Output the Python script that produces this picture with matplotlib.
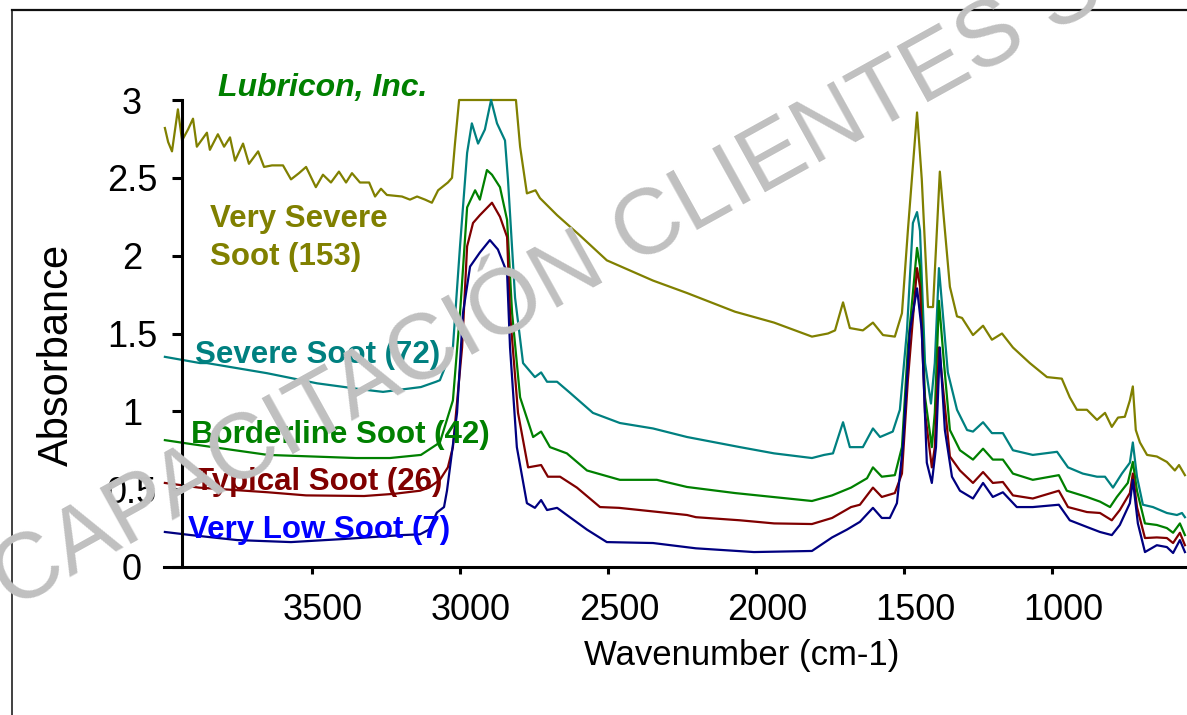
import matplotlib
matplotlib.use('Agg')
import matplotlib.pyplot as plt
from matplotlib.ticker import FixedLocator, FormatStrFormatter
from matplotlib.transforms import ScaledTranslation
from matplotlib.lines import Line2D

plt.rcParams['font.family'] = ['Liberation Sans', 'DejaVu Sans']

# --- spectra (wavenumber cm-1, absorbance) ---
wn_very_severe = [3997, 3986, 3973, 3953, 3939, 3919, 3902, 3889, 3855, 3845, 3818, 3797, 3777,
                  3760, 3733, 3713, 3682, 3662, 3635, 3598, 3571, 3544, 3520, 3487, 3463, 3436,
                  3409, 3385, 3365, 3338, 3307, 3287, 3267, 3247, 3196, 3169, 3145, 3118, 3095,
                  3074, 3041, 3027, 3017, 3003, 2811, 2797, 2774, 2745, 2730, 2672, 2595, 2504,
                  2348, 2233, 2071, 1939, 1811, 1757, 1733, 1706, 1683, 1639, 1605, 1571, 1531,
                  1507, 1487, 1456, 1440, 1419, 1402, 1389, 1379, 1365, 1345, 1321, 1304, 1267,
                  1233, 1203, 1169, 1132, 1075, 1017, 967, 940, 916, 882, 848, 821, 798, 777,
                  754, 737, 727, 717, 703, 679, 646, 612, 585, 571, 551]
abs_very_severe = [2.82, 2.73, 2.67, 2.94, 2.74, 2.81, 2.88, 2.70, 2.79, 2.68, 2.78, 2.70, 2.76,
                   2.61, 2.72, 2.59, 2.67, 2.57, 2.58, 2.58, 2.49, 2.53, 2.57, 2.44, 2.52, 2.47,
                   2.54, 2.47, 2.53, 2.47, 2.47, 2.38, 2.43, 2.39, 2.38, 2.36, 2.38, 2.36, 2.34,
                   2.42, 2.47, 2.50, 2.72, 3.00, 3.00, 2.70, 2.40, 2.42, 2.37, 2.26, 2.13, 1.97,
                   1.84, 1.76, 1.64, 1.57, 1.48, 1.50, 1.52, 1.70, 1.535, 1.52, 1.57, 1.49, 1.48,
                   1.63, 2.16, 2.92, 2.49, 1.67, 1.67, 2.16, 2.54, 2.23, 1.80, 1.61, 1.60, 1.49,
                   1.55, 1.46, 1.50, 1.41, 1.31, 1.22, 1.21, 1.09, 1.01, 1.01, 0.945, 0.99, 0.90, 0.96,
                   0.965, 1.07, 1.16, 0.88, 0.80, 0.72, 0.71, 0.675, 0.62, 0.655, 0.59]

wn_severe = [3997, 3878, 3855, 3652, 3483, 3328, 3260, 3132, 3081, 3068, 3024, 3000, 2976, 2960,
             2939, 2916, 2895, 2875, 2848, 2838, 2814, 2787, 2747, 2726, 2706, 2672, 2629, 2551,
             2460, 2348, 2233, 2054, 1939, 1811, 1770, 1740, 1706, 1683, 1639, 1605, 1581, 1538,
             1514, 1490, 1470, 1456, 1446, 1429, 1409, 1396, 1382, 1369, 1352, 1321, 1287, 1267,
             1233, 1203, 1166, 1132, 1065, 983, 946, 896, 848, 821, 794, 764, 737, 727, 713, 693,
             659, 612, 578, 561, 551]
abs_severe = [1.35, 1.31, 1.31, 1.245, 1.18, 1.14, 1.125, 1.156, 1.19, 1.20, 1.41, 2.06, 2.66, 2.85,
              2.72, 2.81, 3.00, 2.85, 2.74, 2.49, 1.73, 1.31, 1.22, 1.25, 1.19, 1.19, 1.12, 0.99,
              0.925, 0.89, 0.835, 0.77, 0.73, 0.70, 0.72, 0.73, 0.93, 0.77, 0.77, 0.89, 0.835, 0.87,
              1.01, 1.52, 2.21, 2.28, 2.16, 1.31, 1.05, 1.31, 1.92, 1.63, 1.25, 1.01, 0.88, 0.87,
              0.93, 0.86, 0.86, 0.75, 0.72, 0.74, 0.64, 0.60, 0.58, 0.58, 0.51, 0.60, 0.67, 0.80, 0.58, 0.40,
              0.385, 0.347, 0.334, 0.347, 0.32]

wn_borderline = [3997, 3909, 3649, 3351, 3237, 3132, 3068, 3024, 3000, 2976, 2949, 2933, 2909, 2892,
                 2865, 2841, 2824, 2797, 2753, 2726, 2696, 2639, 2571, 2460, 2335, 2233, 2071, 1811,
                 1743, 1679, 1625, 1605, 1575, 1531, 1507, 1487, 1456, 1446, 1429, 1406, 1396, 1382,
                 1365, 1345, 1311, 1267, 1233, 1200, 1166, 1132, 1065, 977, 950, 882, 838, 804, 781,
                 744, 727, 713, 686, 646, 612, 591, 568, 551]
abs_borderline = [0.815, 0.79, 0.72, 0.70, 0.70, 0.72, 0.80, 1.07, 1.63, 2.31, 2.42, 2.36, 2.55, 2.52,
                  2.44, 2.23, 1.63, 1.09, 0.835, 0.87, 0.77, 0.73, 0.62, 0.56, 0.56, 0.514, 0.475, 0.424,
                  0.46, 0.51, 0.57, 0.64, 0.58, 0.59, 0.77, 1.41, 2.05, 1.93, 1.09, 0.77, 0.99, 1.71,
                  1.31, 0.88, 0.75, 0.69, 0.76, 0.69, 0.69, 0.60, 0.56, 0.59, 0.49, 0.45, 0.42, 0.385, 0.45,
                  0.54, 0.675, 0.49, 0.28, 0.27, 0.25, 0.22, 0.28, 0.205]

wn_typical = [3997, 3882, 3649, 3520, 3324, 3223, 3135, 3105, 3068, 3041, 3024, 2993, 2976, 2956,
              2933, 2892, 2865, 2841, 2831, 2804, 2770, 2726, 2703, 2662, 2605, 2527, 2463, 2233,
              2203, 2054, 1939, 1811, 1743, 1679, 1649, 1605, 1575, 1531, 1507, 1487, 1456, 1446,
              1429, 1406, 1396, 1382, 1365, 1345, 1311, 1267, 1233, 1200, 1166, 1132, 1065, 977,
              946, 882, 838, 798, 771, 737, 727, 713, 686, 646, 612, 591, 568, 551]
abs_typical = [0.54, 0.51, 0.48, 0.46, 0.456, 0.47, 0.49, 0.51, 0.56, 0.64, 0.77, 1.41, 2.06, 2.21,
               2.26, 2.34, 2.25, 2.12, 1.63, 0.99, 0.64, 0.655, 0.58, 0.58, 0.51, 0.385, 0.38, 0.334,
               0.32, 0.30, 0.28, 0.276, 0.315, 0.385, 0.40, 0.51, 0.45, 0.475, 0.60, 1.20, 1.92, 1.80,
               0.99, 0.64, 0.77, 1.41, 1.09, 0.71, 0.62, 0.54, 0.61, 0.54, 0.546, 0.46, 0.44, 0.49,
               0.385, 0.353, 0.347, 0.30, 0.366, 0.475, 0.60, 0.385, 0.186, 0.19, 0.186, 0.154, 0.22, 0.14]

wn_very_low = [3997, 3909, 3753, 3571, 3392, 3196, 3135, 3105, 3078, 3054, 3044, 3010, 2990, 2966,
               2933, 2899, 2872, 2841, 2831, 2808, 2774, 2747, 2726, 2706, 2672, 2629, 2571, 2504,
               2348, 2203, 2007, 1811, 1743, 1693, 1649, 1605, 1575, 1548, 1524, 1504, 1480, 1456,
               1440, 1423, 1406, 1392, 1379, 1362, 1338, 1311, 1267, 1233, 1200, 1166, 1119, 1065,
               977, 940, 882, 838, 798, 771, 737, 727, 710, 686, 646, 612, 591, 568, 551]
abs_very_low = [0.225, 0.205, 0.173, 0.16, 0.18, 0.205, 0.21, 0.24, 0.35, 0.385, 0.49, 0.99, 1.63, 1.93,
                2.02, 2.10, 2.04, 1.89, 1.41, 0.77, 0.41, 0.38, 0.43, 0.366, 0.38, 0.32, 0.24, 0.16,
                0.154, 0.12, 0.096, 0.103, 0.19, 0.24, 0.29, 0.38, 0.315, 0.315, 0.41, 0.77, 1.52, 1.79,
                1.52, 0.67, 0.54, 0.77, 1.41, 0.88, 0.58, 0.49, 0.44, 0.54, 0.45, 0.48, 0.385, 0.385,
                0.40, 0.30, 0.257, 0.225, 0.205, 0.27, 0.41, 0.56, 0.28, 0.096, 0.14, 0.128, 0.09, 0.173, 0.096]

series = [
    (wn_very_severe, abs_very_severe, '#808000'),
    (wn_severe, abs_severe, '#008080'),
    (wn_borderline, abs_borderline, '#008000'),
    (wn_typical, abs_typical, '#800000'),
    (wn_very_low, abs_very_low, '#000080'),
]

# label text, colour, left px, baseline px
labels = [
    ('Very Severe', '#808000', 210, 227),
    ('Soot (153)', '#808000', 210, 265),
    ('Severe Soot (72)', '#008080', 195, 363),
    ('Borderline Soot (42)', '#008000', 191, 443),
    ('Typical Soot (26)', '#800000', 195, 490),
    ('Very Low Soot (7)', '#0000FF', 188, 538),
]

W, H = 1187, 715


def fx(px):
    return px / W


def fy(py):
    return 1 - py / H


fig = plt.figure(figsize=(W / 100, H / 100), dpi=100)

# outer frame (only top and left edges are visible in the picture)
fig.add_artist(Line2D([fx(12), fx(12)], [fy(10), 0], color='#202020', lw=1.2))
fig.add_artist(Line2D([fx(12), 1], [fy(10), fy(10)], color='#101010', lw=1.6))

ax = fig.add_axes([fx(164), fy(567), fx(1187) - fx(164), fy(100) - fy(567)])
for wn, ab, col in series:
    ax.plot(wn, ab, color=col, lw=1.6, clip_on=False)

ax.set_xlim(4000, 544)
ax.set_ylim(0, 3)

for side in ('top', 'right'):
    ax.spines[side].set_visible(False)
ax.spines['left'].set_position(('data', 3939))
ax.spines['left'].set_linewidth(2.2)
ax.spines['bottom'].set_linewidth(2.2)

ax.xaxis.set_major_locator(FixedLocator([3500, 3000, 2500, 2000, 1500, 1000]))
ax.yaxis.set_major_locator(FixedLocator([0, 0.5, 1, 1.5, 2, 2.5, 3]))
ax.yaxis.set_major_formatter(FormatStrFormatter('%g'))
ax.tick_params(axis='x', direction='out', length=5, width=2.2, labelsize=26, pad=14)
ax.tick_params(axis='y', direction='out', length=7, width=2.2, labelsize=26, pad=29)
for lab in ax.get_yticklabels():
    lab.set_ha('center')
shift = ScaledTranslation(0.11, 0, fig.dpi_scale_trans)
for lab in ax.get_xticklabels():
    lab.set_transform(lab.get_transform() + shift)

fig.text(fx(57), fy(355), 'Absorbance', rotation=90, ha='center', va='center', fontsize=30)
fig.text(fx(742), fy(655), 'Wavenumber (cm-1)', ha='center', va='center', fontsize=25)

fig.text(fx(218), fy(96), 'Lubricon, Inc.', color='#008000', fontsize=23,
         fontweight='bold', fontstyle='italic', ha='left', va='baseline')
for txt, col, x, y in labels:
    fig.text(fx(x), fy(y), txt, color=col, fontsize=22.5, fontweight='bold',
             ha='left', va='baseline')

# watermark across the chart
fig.text(fx(12), fy(610), 'CAPACITACIÓN CLIENTES S.A.', color='#c0c0c0', fontsize=67,
         rotation=29, rotation_mode='anchor', ha='left', va='baseline', zorder=10)

fig.savefig('out.png', dpi=100)
